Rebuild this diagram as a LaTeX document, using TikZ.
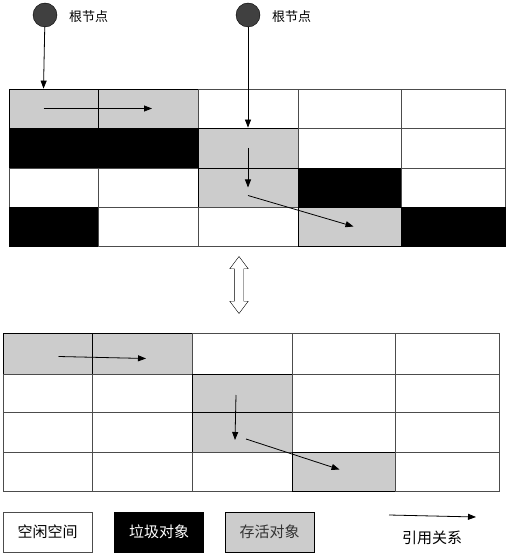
\documentclass[tikz,border=0pt]{standalone}
\usepackage{fontspec}
\newfontfamily\cjk{Noto Sans CJK SC}
\usetikzlibrary{arrows.meta,shapes.arrows}
\tikzset{
  cell/.style={draw=black!70, line width=0.8pt, inner sep=0pt},
  free/.style={cell, fill=white},
  junk/.style={cell, fill=black, draw=black},
  live/.style={cell, fill=black!20, draw=black},
  root/.style={circle, draw=black, fill=black!75, minimum size=24pt, inner sep=0pt},
  ref/.style={-{Triangle[length=8pt,width=6pt]}, line width=0.8pt},
  tag/.style={font=\cjk\fontsize{13}{15}\selectfont, anchor=west, inner sep=0pt},
  key/.style={font=\cjk\fontsize{15}{18}\selectfont, minimum width=89pt, minimum height=40pt},
}
\begin{document}
\begin{tikzpicture}[x=1pt,y=-1pt]
\useasboundingbox (0,0) rectangle (508,553);

% heap before
\def\colx{{9,98,198,298,401,505}}
\def\rowy{{89,128,168,207,246}}
\foreach \row [count=\r] in {{live,live,free,free,free},{junk,junk,live,free,free},{free,free,live,junk,free},{junk,free,free,live,junk}}
  \foreach \kind [count=\c] in \row {
    \pgfmathsetmacro\xa{\colx[\c-1]}\pgfmathsetmacro\xb{\colx[\c]}
    \pgfmathsetmacro\ya{\rowy[\r-1]}\pgfmathsetmacro\yb{\rowy[\r]}
    \node[\kind, minimum width=\xb pt-\xa pt, minimum height=\yb pt-\ya pt] (t\r\c) at ({(\xa+\xb)/2},{(\ya+\yb)/2}) {};
  }

% heap after
\def\colx{{3,92,192,292,395,499}}
\def\rowy{{333,374,412,452,491}}
\foreach \row [count=\r] in {{live,live,free,free,free},{free,free,live,free,free},{free,free,live,free,free},{free,free,free,live,free}}
  \foreach \kind [count=\c] in \row {
    \pgfmathsetmacro\xa{\colx[\c-1]}\pgfmathsetmacro\xb{\colx[\c]}
    \pgfmathsetmacro\ya{\rowy[\r-1]}\pgfmathsetmacro\yb{\rowy[\r]}
    \node[\kind, minimum width=\xb pt-\xa pt, minimum height=\yb pt-\ya pt] (b\r\c) at ({(\xa+\xb)/2},{(\ya+\yb)/2}) {};
  }

% roots
\node[root] (r1) at (45,15) {};
\node[root] (r2) at (248,15) {};
\node[tag] (l1) at (69,17) {根节点};
\node[tag] (l2) at (272,17) {根节点};

\draw[ref] (r1) -- ([xshift=-10pt]t11.north);
\draw[ref] (r2) -- (t23.north);
\draw[ref] ([xshift=-10pt]t11.center) -- ([xshift=4pt]t12.center);
\draw[ref] (t23.center) -- (t33.center);
\draw[ref] ([yshift=-8pt]t33.center) -- ([xshift=4pt]t44.center);

\draw[ref] ([xshift=11pt,yshift=-3pt]b11.center) -- ([xshift=4pt,yshift=-5pt]b12.center);
\draw[ref] ([xshift=-6pt,yshift=-2pt]b23.center) -- ([xshift=-7pt,yshift=-8pt]b33.center);
\draw[ref] ([xshift=4pt,yshift=-7pt]b33.center) -- ([xshift=-4pt,yshift=2pt]b44.center);

% compaction
\node[double arrow, draw=black, fill=white, rotate=90, inner sep=4.5pt, minimum height=57pt, double arrow head extend=4.5pt, double arrow tip angle=74] (swap) at (239,285) {};

% legend
\node[free, key] (kfree) at (47.5,532) {空闲空间};
\node[junk, key, text=white] (kjunk) at (159,532) {垃圾对象};
\node[live, key, text=black!80] (klive) at (269.5,532) {存活对象};
\coordinate (ka) at (389,515);
\coordinate (kb) at (476,517);
\draw[ref] (ka) -- (kb);
\node[key, minimum width=0pt, minimum height=0pt, inner sep=0pt] (kref) at (432,538) {引用关系};
\end{tikzpicture}
\end{document}
